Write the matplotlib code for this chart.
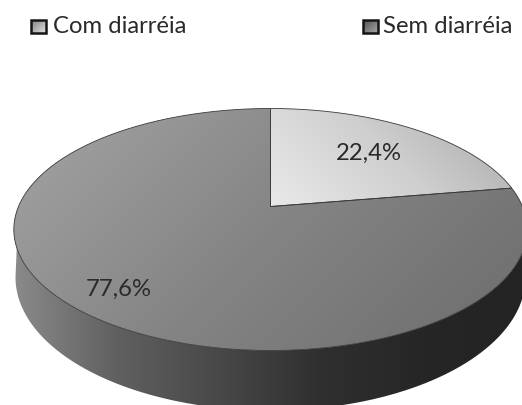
import numpy as np
import matplotlib
matplotlib.use('Agg')
import matplotlib.pyplot as plt
from matplotlib.path import Path
from matplotlib.patches import PathPatch, Rectangle
from matplotlib.colors import LinearSegmentedColormap

labels = ['Com diarréia', 'Sem diarréia']
values = [22.4, 77.6]
pct_text = ['22,4%', '77,6%']

W, H = 522, 406
apex_x, apex_y = 270.0, 207.0
radius = 252.0
persp = -0.19
persp_a = 77.3


def top_rim(theta):
    # theta runs clockwise from twelve o'clock, with a perspective squeeze towards the back
    u, v = np.sin(theta), -np.cos(theta)
    d = 1 + persp * v
    return apex_x + radius * u / d, (persp_a * v + apex_y) / d


def bottom_rim(theta):
    return apex_x + 255 * np.sin(theta), 278 - 133 * np.cos(theta)


def grey_cmap(stops):
    return LinearSegmentedColormap.from_list('g', stops)


def fill_gradient(ax, path, stops, angle, zorder):
    # gradient image in pixel space, clipped to the path
    xx, yy = np.meshgrid(np.arange(W + 1), np.arange(H + 1))
    ext = path.get_extents()
    cx = np.array([ext.x0, ext.x1, ext.x0, ext.x1])
    cy = np.array([ext.y0, ext.y0, ext.y1, ext.y1])
    p = cx * np.cos(angle) + cy * np.sin(angle)
    q = xx * np.cos(angle) + yy * np.sin(angle)
    t = np.clip((q - p.min()) / (p.max() - p.min()), 0, 1)
    im = ax.imshow(t, cmap=grey_cmap(stops), vmin=0, vmax=1, extent=(-0.5, W + 0.5, H + 0.5, -0.5),
                   zorder=zorder, interpolation='bilinear', aspect='auto')
    patch = PathPatch(path, transform=ax.transData, fc='none', ec='none')
    ax.add_patch(patch)
    im.set_clip_path(patch)


fig = plt.figure(figsize=(W / 100, H / 100), dpi=100)
ax = fig.add_axes([0, 0, 1, 1])
ax.axis('off')

# side wall of the disc
th = np.linspace(np.pi / 2, 3 * np.pi / 2, 200)
tx, ty = top_rim(th)
bx, by = bottom_rim(th)
wall = Path(np.vstack([np.c_[tx, ty], np.c_[bx, by][::-1]]))
fill_gradient(ax, wall, ['#8a8a8a', '#606060', '#484848', '#2f2f2f', '#262626', '#232323'], 0.0, 1)

# wedges, both starting at twelve o'clock
fracs = np.array(values) / sum(values)
ends = np.cumsum(fracs) * 2 * np.pi
starts = np.r_[0, ends[:-1]]
styles = [(['#e9e9e9', '#cfcfcf', '#a8a8a8'], -np.pi / 4),
          (['#a4a4a4', '#848484', '#6c6c6c'], np.pi / 4)]
for s, e, (stops, ang) in zip(starts, ends, styles):
    t = np.linspace(s, e, 300)
    x, y = top_rim(t)
    wedge = Path(np.vstack([[apex_x, apex_y], np.c_[x, y], [apex_x, apex_y]]))
    fill_gradient(ax, wedge, stops, ang, 3)
    ax.add_patch(PathPatch(wedge, fc='none', ec='#3a3a3a', lw=0.6, zorder=4))

# percentage labels
font = ['Lato', 'DejaVu Sans']
ax.text(368.5, 153, pct_text[0], ha='center', va='center', fontsize=17.2, color='#2a2a2a', family=font, zorder=5)
ax.text(118, 289, pct_text[1], ha='center', va='center', fontsize=17.2, color='#2a2a2a', family=font, zorder=5)

# legend row
legend_x = [29, 361]
legend_text_x = [52.5, 382.5]
swatches = [['#808080', '#e0e0e0'], ['#505050', '#a8a8a8']]
for lx, tx0, lab, stops in zip(legend_x, legend_text_x, labels, swatches):
    box = Rectangle((lx + 1, 20), 15, 13, fc='none', ec='#151515', lw=1.8, zorder=6)
    xx, yy = np.meshgrid(np.linspace(0, 1, 20), np.linspace(0, 1, 20))
    ax.imshow((xx + yy) / 2, cmap=grey_cmap(stops), vmin=0, vmax=1,
              extent=(lx + 1, lx + 16, 33, 20), zorder=5, aspect='auto')
    ax.add_patch(box)
    ax.text(tx0, 26, lab, ha='left', va='center', fontsize=17.2, color='#2a2a2a', family=font, zorder=6)
ax.set_xlim(-0.5, W - 0.5)
ax.set_ylim(H - 0.5, -0.5)

fig.savefig('out.png', dpi=100)
